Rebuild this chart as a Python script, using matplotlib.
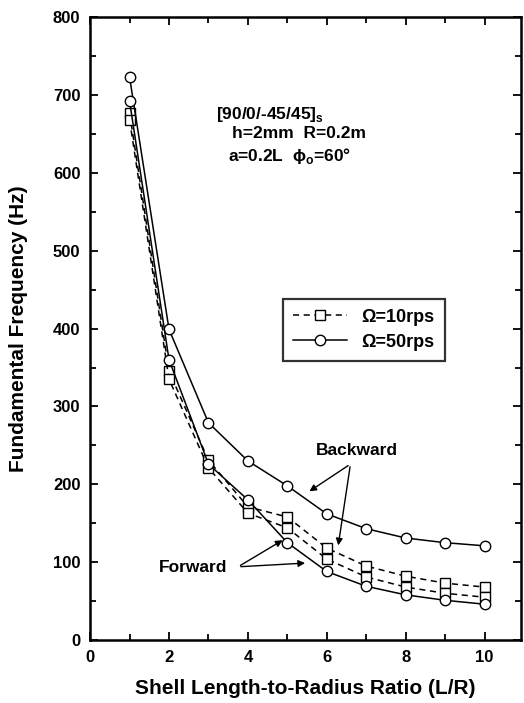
import matplotlib
matplotlib.use("Agg")
import matplotlib.pyplot as plt
from matplotlib.ticker import MultipleLocator

plt.rcParams["font.family"] = ["Liberation Sans", "DejaVu Sans"]
plt.rcParams["font.weight"] = "bold"
plt.rcParams["mathtext.default"] = "bf"

ratio = [1, 2, 3, 4, 5, 6, 7, 8, 9, 10]

# Omega = 10 rps (dashed, squares)
f10_backward = [677, 345, 231, 171, 158, 118, 95, 82, 73, 68]
f10_forward = [668, 335, 221, 163, 144, 104, 81, 68, 60, 55]

# Omega = 50 rps (solid, circles)
f50_backward = [723, 399, 279, 230, 198, 162, 143, 131, 125, 121]
f50_forward = [692, 360, 226, 180, 125, 88, 69, 58, 51, 46]

fig = plt.figure(figsize=(5.24, 7.03), dpi=100)
ax = fig.add_axes([0.172, 0.0896, 0.822, 0.886])

sq = dict(color="black", linestyle="--", lw=1.1, marker="s", ms=6.5,
          mfc="white", mec="black", mew=1.0, dashes=(4, 3))
ci = dict(color="black", linestyle="-", lw=1.1, marker="o", ms=7.5,
          mfc="white", mec="black", mew=1.0)

ax.plot(ratio, f10_backward, label="\u03a9=10rps", **sq)
ax.plot(ratio, f10_forward, **sq)
ax.plot(ratio, f50_backward, label="\u03a9=50rps", **ci)
ax.plot(ratio, f50_forward, **ci)

ax.set_xlim(0, 10.92)
ax.set_ylim(0, 800)
ax.xaxis.set_major_locator(MultipleLocator(2))
ax.xaxis.set_minor_locator(MultipleLocator(1))
ax.yaxis.set_major_locator(MultipleLocator(100))
ax.yaxis.set_minor_locator(MultipleLocator(50))
ax.tick_params(which="both", direction="in", top=True, right=True,
               width=1.3, labelsize=12, pad=7)
ax.tick_params(which="major", length=6)
ax.tick_params(which="minor", length=4)
for s in ax.spines.values():
    s.set_linewidth(1.8)

ax.set_xlabel("Shell Length-to-Radius Ratio (L/R)", fontsize=15,
              fontweight="bold", labelpad=10)
ax.set_ylabel("Fundamental Frequency (Hz)", fontsize=15,
              fontweight="bold", labelpad=18)

ax.text(3.2, 675, "[90/0/-45/45]$_\\mathregular{s}$", fontsize=12.5, va="center")
ax.text(3.6, 650, "h=2mm  R=0.2m", fontsize=12.5, va="center")
ax.text(3.5, 622, "a=0.2L  \u03d5$_\\mathregular{o}$=60\u00b0",
        fontsize=12.5, va="center")

leg = ax.legend(loc="upper left", bbox_to_anchor=(0.448, 0.548), frameon=True,
                fancybox=False, edgecolor="black", fontsize=13,
                handlelength=3.0, borderpad=0.55, labelspacing=0.45,
                borderaxespad=0)
leg.get_frame().set_linewidth(1.6)

arrow = dict(arrowstyle="-|>", color="black", lw=1.0, mutation_scale=10)
ax.text(6.76, 244, "Backward", fontsize=12.5, ha="center", va="center")
ax.annotate("", xy=(5.5, 189), xytext=(6.6, 226), arrowprops=arrow)
ax.annotate("", xy=(6.28, 118), xytext=(6.6, 226), arrowprops=arrow)

ax.text(2.6, 93, "Forward", fontsize=12.5, ha="center", va="center")
ax.annotate("", xy=(4.94, 130), xytext=(3.75, 94), arrowprops=arrow)
ax.annotate("", xy=(5.52, 99), xytext=(3.75, 94), arrowprops=arrow)

fig.savefig("out.png", dpi=100)
